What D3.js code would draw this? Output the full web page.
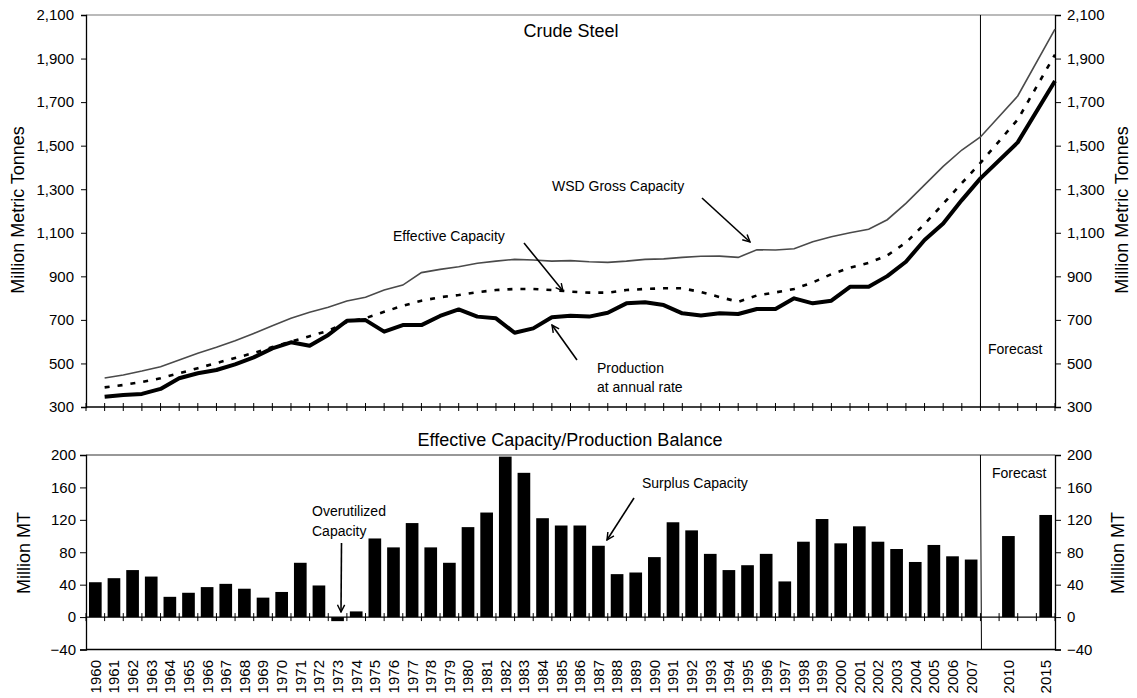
<!DOCTYPE html>
<html>
<head>
<meta charset="utf-8">
<script src="https://cdn.jsdelivr.net/npm/d3@7"></script>
<style>
body { margin: 0; background: #fff; }
svg { font-family: Arial, "Liberation Sans", sans-serif; }
</style>
</head>
<body>
<div id="chart"></div>
<script>
// categories: yearly to 2007, then forecast slots (gaps are empty slots)
var categories = ["1960","1961","1962","1963","1964","1965","1966","1967","1968","1969",
    "1970","1971","1972","1973","1974","1975","1976","1977","1978","1979",
    "1980","1981","1982","1983","1984","1985","1986","1987","1988","1989",
    "1990","1991","1992","1993","1994","1995","1996","1997","1998","1999",
    "2000","2001","2002","2003","2004","2005","2006","2007","gap1","2010","gap2","2015"];

// million metric tonnes
var grossCapacity = [433,447,465,485,516,547,574,604,638,673,
    707,735,758,787,804,837,860,917,932,944,
    960,970,978,975,970,972,967,964,970,978,
    980,987,992,993,987,1022,1021,1027,1059,1082,
    1100,1116,1160,1235,1320,1405,1480,1540,null,1728,null,2035];

var effectiveCapacity = [390,401,415,432,455,478,502,525,548,575,
    600,625,650,690,708,737,765,788,804,814,
    827,837,842,842,837,830,825,825,837,842,
    845,845,828,805,783,812,826,842,872,910,
    940,962,996,1055,1140,1233,1328,1421,null,1620,null,1918];

var production = [347,355,360,383,432,455,470,496,528,569,
    597,581,631,696,699,646,676,676,718,748,
    715,707,641,661,712,719,715,733,776,781,
    768,730,720,730,727,750,750,799,776,788,
    852,852,901,967,1067,1143,1250,1350,null,1515,null,1797];

// effective capacity minus production, million MT
var balance = [43,48,58,50,25,30,37,41,35,24,
    31,67,39,-5,7,97,86,116,86,67,
    111,129,198,178,122,113,113,88,53,55,
    74,117,107,78,58,64,78,44,93,121,
    91,112,93,84,68,89,75,71,null,100,null,126];

var topTicks = [300,500,700,900,1100,1300,1500,1700,1900,2100];
var bottomTicks = [-40,0,40,80,120,160,200];

var w = 1137, h = 698;
var left = 86, right = 1055;

var svg = d3.select("#chart").append("svg")
    .attr("width", w)
    .attr("height", h);

var defs = svg.append("defs");
defs.append("marker")
    .attr("id", "arrow")
    .attr("viewBox", "0 0 10 10")
    .attr("refX", 9).attr("refY", 5)
    .attr("markerWidth", 9).attr("markerHeight", 9)
    .attr("markerUnits", "userSpaceOnUse")
    .attr("orient", "auto")
    .append("path")
    .attr("d", "M1,1 L9,5 L1,9")
    .attr("fill", "none")
    .attr("stroke", "#000")
    .attr("stroke-width", 1.6);

// band scale for bars, point scale (with a leading slot) for the line chart
var x = d3.scaleBand()
    .domain(categories)
    .range([left, right])
    .paddingInner(0.32)
    .paddingOuter(0.16);

var xp = d3.scalePoint()
    .domain(["start"].concat(categories))
    .range([left, right]);

var yTop = d3.scaleLinear().domain([300, 2100]).range([407, 15]);
var yBot = d3.scaleLinear().domain([-40, 200]).range([649.5, 455]);

/* ---------- top chart ---------- */
var topG = svg.append("g");

topG.append("line")
    .attr("x1", left).attr("x2", right)
    .attr("y1", yTop(2100)).attr("y2", yTop(2100))
    .attr("stroke", "#777").attr("stroke-width", 1.2);

var yAxisL = d3.axisLeft(yTop).tickValues(topTicks)
    .tickFormat(d3.format(",")).tickSize(5).tickPadding(7);
var yAxisR = d3.axisRight(yTop).tickValues(topTicks)
    .tickFormat(d3.format(",")).tickSize(6).tickPadding(6);

topG.append("g")
    .attr("transform", "translate(" + left + ",0)")
    .call(yAxisL);
topG.append("g")
    .attr("transform", "translate(" + right + ",0)")
    .call(yAxisR);

// category axis with cross ticks
topG.append("line")
    .attr("x1", left).attr("x2", right)
    .attr("y1", yTop(300)).attr("y2", yTop(300))
    .attr("stroke", "#000").attr("stroke-width", 1.3);
topG.selectAll(".xtick")
    .data(xp.domain())
    .enter()
    .append("line")
    .attr("class", "xtick")
    .attr("x1", function(d) { return xp(d); })
    .attr("x2", function(d) { return xp(d); })
    .attr("y1", yTop(300) - 4)
    .attr("y2", yTop(300) + 4)
    .attr("stroke", "#000");

// forecast divider
topG.append("line")
    .attr("x1", xp("2007")).attr("x2", xp("2007"))
    .attr("y1", yTop(2100)).attr("y2", yTop(300))
    .attr("stroke", "#000").attr("stroke-width", 1);

function series(vals) {
    return categories.map(function(c, i) {
        return { key: c, value: vals[i] };
    }).filter(function(d) { return d.value != null; });
}

var line = d3.line()
    .x(function(d) { return xp(d.key); })
    .y(function(d) { return yTop(d.value); });

topG.append("path")
    .datum(series(grossCapacity))
    .attr("d", line)
    .attr("fill", "none")
    .attr("stroke", "#4a4a4a")
    .attr("stroke-width", 1.6);

topG.append("path")
    .datum(series(effectiveCapacity))
    .attr("d", line)
    .attr("fill", "none")
    .attr("stroke", "#000")
    .attr("stroke-width", 2.6)
    .attr("stroke-dasharray", "5,8");

topG.append("path")
    .datum(series(production))
    .attr("d", line)
    .attr("fill", "none")
    .attr("stroke", "#000")
    .attr("stroke-width", 4)
    .attr("stroke-linejoin", "round");

/* ---------- bottom chart ---------- */
var botG = svg.append("g");

botG.append("line")
    .attr("x1", left).attr("x2", right)
    .attr("y1", yBot(200)).attr("y2", yBot(200))
    .attr("stroke", "#333").attr("stroke-width", 1.2);
botG.append("line")
    .attr("x1", left).attr("x2", right)
    .attr("y1", yBot(-40)).attr("y2", yBot(-40))
    .attr("stroke", "#000").attr("stroke-width", 1.3);

botG.append("g")
    .attr("transform", "translate(" + left + ",0)")
    .call(d3.axisLeft(yBot).tickValues(bottomTicks).tickSize(6).tickPadding(4));
botG.append("g")
    .attr("transform", "translate(" + right + ",0)")
    .call(d3.axisRight(yBot).tickValues(bottomTicks).tickSize(6).tickPadding(6));

botG.selectAll("rect")
    .data(series(balance))
    .enter()
    .append("rect")
    .attr("x", function(d) { return x(d.key); })
    .attr("width", x.bandwidth())
    .attr("y", function(d) { return yBot(Math.max(0, d.value)); })
    .attr("height", function(d) { return Math.abs(yBot(d.value) - yBot(0)); })
    .attr("fill", "#000");

botG.append("line")
    .attr("x1", left).attr("x2", right)
    .attr("y1", yBot(0)).attr("y2", yBot(0))
    .attr("stroke", "#000").attr("stroke-width", 1.2);
botG.selectAll(".xtick")
    .data(xp.domain())
    .enter()
    .append("line")
    .attr("class", "xtick")
    .attr("x1", function(d) { return xp(d); })
    .attr("x2", function(d) { return xp(d); })
    .attr("y1", yBot(0) - 4)
    .attr("y2", yBot(0) + 4)
    .attr("stroke", "#000");

botG.append("line")
    .attr("x1", xp("2007")).attr("x2", xp("2007") + 1)
    .attr("y1", yBot(200)).attr("y2", yBot(-40))
    .attr("stroke", "#000").attr("stroke-width", 1);

// year labels
botG.selectAll(".year")
    .data(categories.filter(function(c) { return c.indexOf("gap") < 0; }))
    .enter()
    .append("text")
    .attr("class", "year")
    .attr("transform", function(d) {
        return "translate(" + (x(d) + x.bandwidth() / 2) + ",660) rotate(-90)";
    })
    .attr("dy", "0.36em")
    .attr("text-anchor", "end")
    .style("font-size", "15px")
    .text(function(d) { return d; });

svg.selectAll(".tick text").style("font-size", "15px").attr("fill", "#000");
svg.selectAll(".domain").attr("stroke", "#000").attr("stroke-width", 1.3);
svg.selectAll(".tick line").attr("stroke", "#000");

/* ---------- titles and notes ---------- */
function label(tx, ty, str, size, anchor) {
    svg.append("text")
        .attr("x", tx).attr("y", ty)
        .attr("text-anchor", anchor || "start")
        .style("font-size", size + "px")
        .text(str);
}
function vlabel(tx, ty, str) {
    svg.append("text")
        .attr("transform", "translate(" + tx + "," + ty + ") rotate(-90)")
        .attr("text-anchor", "middle")
        .style("font-size", "18px")
        .text(str);
}
function arrow(x1, y1, x2, y2) {
    svg.append("line")
        .attr("x1", x1).attr("y1", y1)
        .attr("x2", x2).attr("y2", y2)
        .attr("stroke", "#000")
        .attr("stroke-width", 1.6)
        .attr("marker-end", "url(#arrow)");
}

label(571, 37, "Crude Steel", 18, "middle");
label(570, 446, "Effective Capacity/Production Balance", 18, "middle");
vlabel(24, 210, "Million Metric Tonnes");
vlabel(1128, 210, "Million Metric Tonnes");
vlabel(30, 553, "Million MT");
vlabel(1124, 553, "Million MT");

label(552, 191, "WSD Gross Capacity", 14);
arrow(702, 198, 750, 242);
label(393, 241, "Effective Capacity", 14);
arrow(524, 243, 563, 291);
label(597, 373, "Production", 14);
label(597, 392, "at annual rate", 14);
arrow(577, 360, 552, 325);
label(988, 354, "Forecast", 14);

label(312, 516, "Overutilized", 14);
label(312, 536, "Capacity", 14);
arrow(341.5, 543, 341, 612);
label(642, 488, "Surplus Capacity", 14);
arrow(634, 498, 607, 540);
label(992, 478, "Forecast", 14);
</script>
</body>
</html>
